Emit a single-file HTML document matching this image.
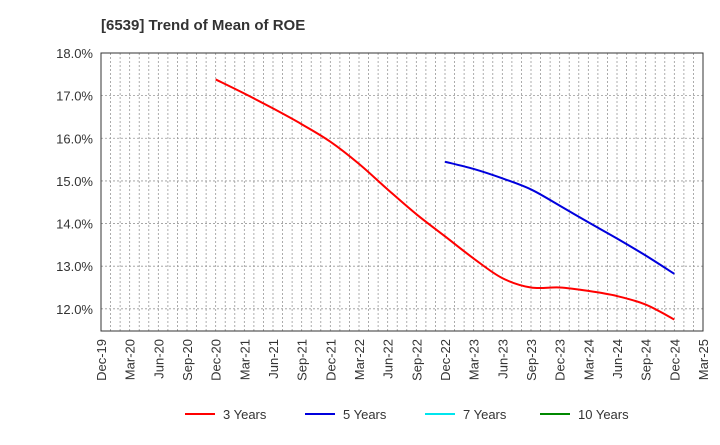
<!DOCTYPE html>
<html><head><meta charset="utf-8"><style>
body{margin:0;background:#fff;font-family:"Liberation Sans",Arial,sans-serif;}
svg text{font-family:"Liberation Sans",Arial,sans-serif;}
</style></head><body>
<svg id="c" width="720" height="440" xmlns="http://www.w3.org/2000/svg">
<text x="101" y="30" font-size="15" font-weight="bold" fill="#333">[6539]  Trend of Mean of ROE</text>
<g id="grid"></g>
<g id="axes"></g>
<g id="series"></g>
<g id="legend"></g>
</svg>
<script>
const xLabels=["Dec-19","Mar-20","Jun-20","Sep-20","Dec-20","Mar-21","Jun-21","Sep-21","Dec-21","Mar-22","Jun-22","Sep-22","Dec-22","Mar-23","Jun-23","Sep-23","Dec-23","Mar-24","Jun-24","Sep-24","Dec-24","Mar-25"];
const yTicks=[12,13,14,15,16,17,18];
const yTickLabels=["12.0%","13.0%","14.0%","15.0%","16.0%","17.0%","18.0%"];
const seriesNames=["3 Years","5 Years","7 Years","10 Years"];
const seriesColors=["#ff0000","#0000dd","#00e5ee","#008800"];
const start3=4;
const vals3=[17.38,17.05,16.7,16.33,15.92,15.4,14.8,14.22,13.7,13.18,12.72,12.5,12.5,12.42,12.3,12.1,11.75];
const start5=12;
const vals5=[15.45,15.28,15.06,14.8,14.42,14.03,13.65,13.25,12.82];
const vals7=[];
const vals10=[];

const L=101,R=703,T=53,B=331,yMin=11.48,yMax=18;
const NS="http://www.w3.org/2000/svg";
const xq=i=>L+(R-L)*i/(xLabels.length-1);
const y=v=>B-(B-T)*(v-yMin)/(yMax-yMin);
function mk(tag,attrs,parent){const e=document.createElementNS(NS,tag);for(const k in attrs)e.setAttribute(k,attrs[k]);parent.appendChild(e);return e;}
const grid=document.getElementById('grid'),axes=document.getElementById('axes'),ser=document.getElementById('series'),leg=document.getElementById('legend');
const months=(xLabels.length-1)*3;
for(let m=1;m<months;m++){const x=L+(R-L)*m/months;
const g=mk('line',{x1:x,x2:x,y1:T,y2:B,stroke:'#999','stroke-dasharray':'2,2','stroke-width':0.8},grid);

}
yTicks.forEach((v,i)=>{const yy=y(v);
const g=mk('line',{x1:L,x2:R,y1:yy,y2:yy,stroke:'#999','stroke-dasharray':'2,2','stroke-width':0.8},grid);


const t=mk('text',{x:L-8,y:yy+5,'text-anchor':'end','font-size':13,fill:'#333'},axes);t.textContent=yTickLabels[i];

});
const fr=mk('rect',{x:L,y:T,width:R-L,height:B-T,fill:'none',stroke:'#333','stroke-width':1},axes);


xLabels.forEach((s,i)=>{const x=xq(i);
const t=mk('text',{transform:`translate(${x+5},${B+8}) rotate(-90)`,'text-anchor':'end','font-size':13,fill:'#333'},axes);t.textContent=s;

});
function path(vals,st,color,name){if(!vals.length)return;
const p=vals.map((v,i)=>[xq(st+i),y(v)]);
let d=`M${p[0][0]},${p[0][1]}`;
for(let i=0;i<p.length-1;i++){const p0=p[i-1]||p[i],p1=p[i],p2=p[i+1],p3=p[i+2]||p2;
d+=` C${p1[0]+(p2[0]-p0[0])/6},${p1[1]+(p2[1]-p0[1])/6} ${p2[0]-(p3[0]-p1[0])/6},${p2[1]-(p3[1]-p1[1])/6} ${p2[0]},${p2[1]}`;}
const e=mk('path',{d:d,fill:'none',stroke:color,'stroke-width':2},ser);

}
path(vals3,start3,seriesColors[0],'line-3-years');
path(vals5,start5,seriesColors[1],'line-5-years');
path(vals7,0,seriesColors[2],'line-7-years');
path(vals10,0,seriesColors[3],'line-10-years');
const lx=[185,305,425,540];
seriesNames.forEach((n,i)=>{
const l=mk('line',{x1:lx[i],x2:lx[i]+30,y1:414,y2:414,stroke:seriesColors[i],'stroke-width':2},leg);


const t=mk('text',{x:lx[i]+38,y:419,'font-size':13,fill:'#333'},leg);t.textContent=n;

});
</script>
</body></html>
